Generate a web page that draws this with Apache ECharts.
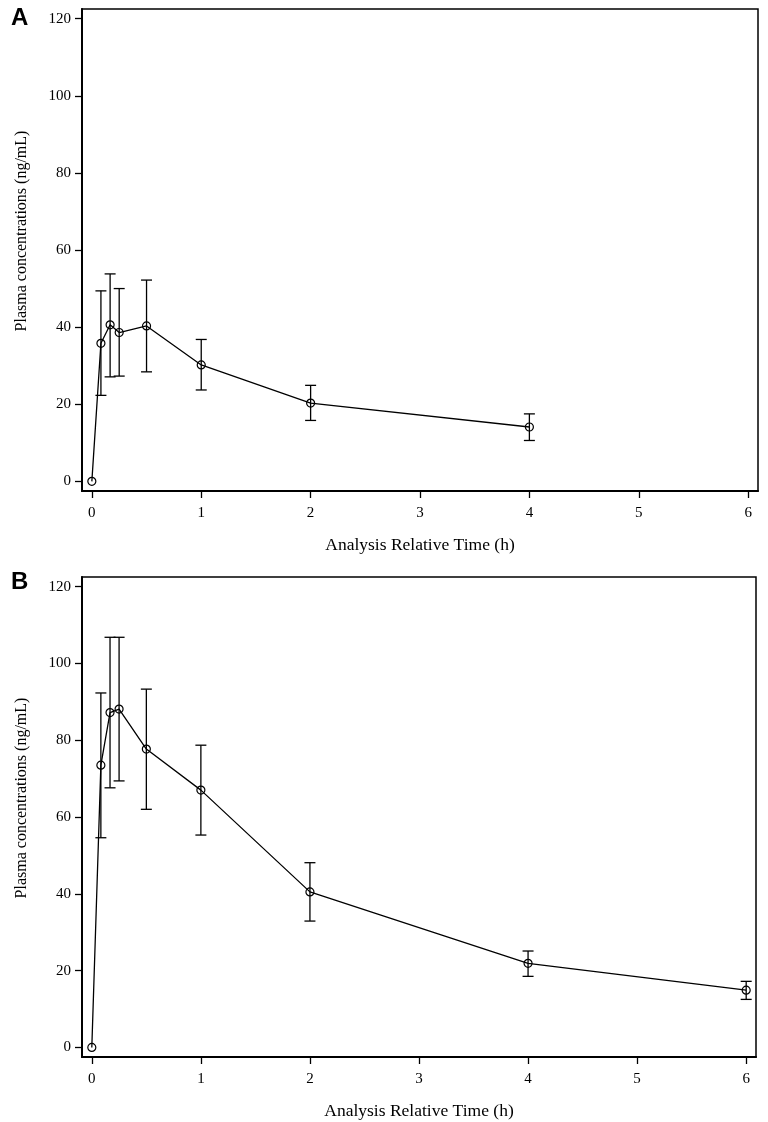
<!DOCTYPE html>
<html>
<head>
<meta charset="utf-8">
<script src="https://cdn.jsdelivr.net/npm/echarts@6/dist/echarts.min.js"></script>
<style>
html,body{margin:0;padding:0;background:#fff;}
#chart{width:768px;height:1122px;}
</style>
</head>
<body>
<div id="chart"></div>
<script>
// Panel A data
const timesA = [0, 0.083, 0.167, 0.25, 0.5, 1, 2, 4];
const meanA  = [0, 35.8, 40.6, 38.6, 40.3, 30.2, 20.3, 14.1];
const upperA = [null, 49.4, 53.8, 50.0, 52.2, 36.8, 24.9, 17.5];
const lowerA = [null, 22.3, 27.1, 27.3, 28.4, 23.7, 15.8, 10.6];
// Panel B data
const timesB = [0, 0.083, 0.167, 0.25, 0.5, 1, 2, 4, 6];
const meanB  = [0, 73.5, 87.2, 88.1, 77.7, 67.0, 40.5, 21.9, 14.9];
const upperB = [null, 92.3, 106.8, 106.8, 93.3, 78.7, 48.1, 25.1, 17.2];
const lowerB = [null, 54.6, 67.6, 69.4, 62.0, 55.3, 32.9, 18.5, 12.5];
// Tick labels
const xTicks = [0, 1, 2, 3, 4, 5, 6];
const yTicks = [0, 20, 40, 60, 80, 100, 120];
const panelLabels = ['A', 'B'];
const xTitle = 'Analysis Relative Time (h)';
const yTitle = 'Plasma concentrations (ng/mL)';

const serif = "'Liberation Serif', 'Times New Roman', serif";

function lineData(t, m) { return t.map((x, i) => [x, m[i]]); }
function errData(t, lo, hi) {
  const out = [];
  t.forEach((x, i) => { if (lo[i] != null) out.push([x, lo[i], hi[i]]); });
  return out;
}

function renderErr(params, api) {
  const x = api.value(0);
  const p1 = api.coord([x, api.value(1)]);
  const p2 = api.coord([x, api.value(2)]);
  const hw = 5.5;
  const style = { stroke: '#000', lineWidth: 1.3 };
  return {
    type: 'group',
    children: [
      { type: 'line', shape: { x1: p1[0], y1: p1[1], x2: p2[0], y2: p2[1] }, style },
      { type: 'line', shape: { x1: p1[0] - hw, y1: p1[1], x2: p1[0] + hw, y2: p1[1] }, style },
      { type: 'line', shape: { x1: p2[0] - hw, y1: p2[1], x2: p2[0] + hw, y2: p2[1] }, style }
    ]
  };
}

function xAxisCfg(gi) {
  return {
    type: 'value', gridIndex: gi, min: -0.09, max: 6.09,
    name: xTitle, nameLocation: 'middle', nameGap: 45,
    nameTextStyle: { fontFamily: serif, fontSize: 17.5, color: '#000' },
    axisLine: { show: true, onZero: false, lineStyle: { color: '#000', width: 2 } },
    axisTick: { show: true, customValues: xTicks, length: 7, lineStyle: { color: '#000', width: 1.3 } },
    axisLabel: { customValues: xTicks, fontFamily: serif, fontSize: 15, color: '#000', margin: 15 },
    splitLine: { show: false }
  };
}
function yAxisCfg(gi) {
  return {
    type: 'value', gridIndex: gi, min: -2.5, max: 122.5,
    name: yTitle, nameLocation: 'middle', nameGap: 52, nameRotate: 90,
    nameTextStyle: { fontFamily: serif, fontSize: 16, color: '#000', padding: [0, 0, 0, 38] },
    axisLine: { show: true, onZero: false, lineStyle: { color: '#000', width: 2 } },
    axisTick: { show: true, customValues: yTicks, length: 7, lineStyle: { color: '#000', width: 1.3 } },
    axisLabel: { customValues: yTicks, fontFamily: serif, fontSize: 15, color: '#000', margin: 11 },
    splitLine: { show: false }
  };
}

const chart = echarts.init(document.getElementById('chart'), null, { renderer: 'canvas' });
chart.setOption({
  backgroundColor: '#fff',
  animation: false,
  title: [
    { text: panelLabels[0], left: 6, top: 1, textStyle: { fontFamily: "'Liberation Sans', Arial, sans-serif", fontWeight: 'bold', fontSize: 24, color: '#000' } },
    { text: panelLabels[1], left: 6, top: 565, textStyle: { fontFamily: "'Liberation Sans', Arial, sans-serif", fontWeight: 'bold', fontSize: 24, color: '#000' } }
  ],
  grid: [
    { left: 82, top: 9, width: 676, height: 482, show: true, borderColor: '#000', borderWidth: 1.5, backgroundColor: 'transparent' },
    { left: 82, top: 577, width: 674, height: 480, show: true, borderColor: '#000', borderWidth: 1.5, backgroundColor: 'transparent' }
  ],
  xAxis: [xAxisCfg(0), xAxisCfg(1)],
  yAxis: [yAxisCfg(0), yAxisCfg(1)],
  series: [
    { type: 'line', xAxisIndex: 0, yAxisIndex: 0, data: lineData(timesA, meanA),
      symbol: 'circle', symbolSize: 8, lineStyle: { color: '#000', width: 1.3 },
      itemStyle: { color: 'rgba(0,0,0,0)', borderColor: '#000', borderWidth: 1.2 }, z: 2 },
    { type: 'custom', xAxisIndex: 0, yAxisIndex: 0, data: errData(timesA, lowerA, upperA), renderItem: renderErr, z: 3 },
    { type: 'line', xAxisIndex: 1, yAxisIndex: 1, data: lineData(timesB, meanB),
      symbol: 'circle', symbolSize: 8, lineStyle: { color: '#000', width: 1.3 },
      itemStyle: { color: 'rgba(0,0,0,0)', borderColor: '#000', borderWidth: 1.2 }, z: 2 },
    { type: 'custom', xAxisIndex: 1, yAxisIndex: 1, data: errData(timesB, lowerB, upperB), renderItem: renderErr, z: 3 }
  ]
});
</script>
</body>
</html>
